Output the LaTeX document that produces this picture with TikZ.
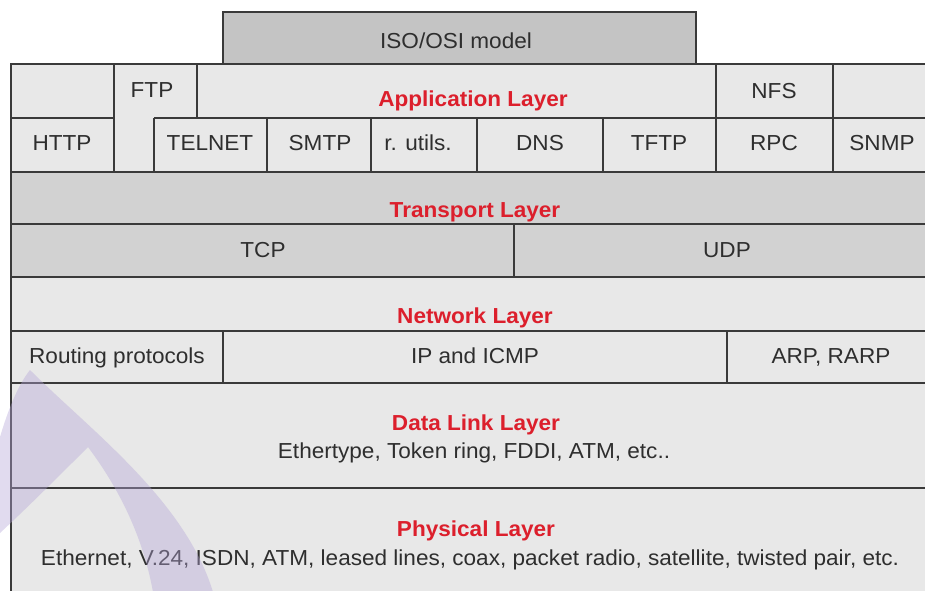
\documentclass[tikz,border=0pt]{standalone}
\usepackage{fontspec}
\setmainfont[FakeStretch=1.04]{Liberation Sans}
\definecolor{isogray}{HTML}{C4C4C4}
\definecolor{lightfill}{HTML}{E8E8E8}
\definecolor{midfill}{HTML}{D2D2D2}
\definecolor{edgecol}{HTML}{3A3A3A}
\definecolor{txtcol}{HTML}{2E2E2E}
\definecolor{layerred}{HTML}{DC1F2C}
\definecolor{wmcol}{RGB}{180,165,215}
\tikzset{
  edge/.style={draw=edgecol, line width=1.3pt},
  lbl/.style={text=txtcol, anchor=base, inner sep=0pt, font=\fontsize{21.7}{25}\selectfont},
  layer/.style={text=layerred, anchor=base, inner sep=0pt, font=\fontsize{21.7}{25}\selectfont\bfseries},
  wm/.style={fill=wmcol, opacity=0.4}
}
\begin{document}
\begin{tikzpicture}[x=1pt,y=-1pt]
\useasboundingbox (0,0) rectangle (925,590);
\begin{scope}
\clip (0,0) rectangle (925,590);
% fills
\fill[isogray] (223,12) rectangle (696,64);
\fill[lightfill] (11,64) rectangle (940,172);
\fill[midfill] (11,172) rectangle (940,277);
\fill[lightfill] (11,277) rectangle (940,600);
% ISO box
\draw[edge] (223,64) -- (223,12) -- (696,12) -- (696,64);
% application layer
\draw[edge] (11,600) -- (11,64) -- (940,64);
\draw[edge] (11,118) -- (114,118);
\draw[edge] (154,118) -- (940,118);
\draw[edge] (11,172) -- (940,172);
\draw[edge] (114,64) -- (114,172);
\draw[edge] (197,64) -- (197,118);
\draw[edge] (154,118) -- (154,172);
\foreach \xx in {267,371,477,603} \draw[edge] (\xx,118) -- (\xx,172);
\draw[edge] (716,64) -- (716,172);
\draw[edge] (833,64) -- (833,172);
% transport
\draw[edge] (11,224) -- (940,224);
\draw[edge] (11,277) -- (940,277);
\draw[edge] (514,224) -- (514,277);
% network
\draw[edge] (11,331) -- (940,331);
\draw[edge] (11,383) -- (940,383);
\draw[edge] (223,331) -- (223,383);
\draw[edge] (727,331) -- (727,383);
% data link / physical
\draw[edge] (11,488) -- (940,488);
\end{scope}
% texts
\node[lbl] (iso) at (456,48) {ISO/OSI model};
\node[lbl] (ftp) at (152,97) {FTP};
\node[layer] (app) at (473,106) {Application Layer};
\node[lbl] (nfs) at (774,98) {NFS};
\node[lbl] (http) at (62,150) {HTTP};
\node[lbl] (telnet) at (210,150) {TELNET};
\node[lbl] (smtp) at (320,150) {SMTP};
\node[lbl] (rutils) at (418,150) {r. utils.};
\node[lbl] (dns) at (540,150) {DNS};
\node[lbl] (tftp) at (659,150) {TFTP};
\node[lbl] (rpc) at (774,150) {RPC};
\node[lbl] (snmp) at (882,150) {SNMP};
\node[layer] (trans) at (475,217) {Transport Layer};
\node[lbl] (tcp) at (263,257) {TCP};
\node[lbl] (udp) at (727,257) {UDP};
\node[layer] (net) at (475,323) {Network Layer};
\node[lbl] (rout) at (117,363) {Routing protocols};
\node[lbl] (ip) at (475,363) {IP and ICMP};
\node[lbl] (arp) at (831,363) {ARP, RARP};
\node[layer] (dl) at (476,430) {Data Link Layer};
\node[lbl] (dltxt) at (474,458) {Ethertype, Token ring, FDDI, ATM, etc..};
\node[layer] (phy) at (476,536) {Physical Layer};
\node[lbl] (phytxt) at (470,565) {Ethernet, V.24, ISDN, ATM, leased lines, coax, packet radio, satellite, twisted pair, etc.};
% watermark
\begin{scope}
\clip (0,0) rectangle (925,590);
\fill[wm] (0,437) .. controls (8,410) and (18,385) .. (30,370)
  .. controls (90,430) and (185,500) .. (213,592) -- (153,592)
  .. controls (140,520) and (105,470) .. (88,447)
  .. controls (60,475) and (30,505) .. (0,533) -- cycle;
\end{scope}
\end{tikzpicture}
\end{document}
